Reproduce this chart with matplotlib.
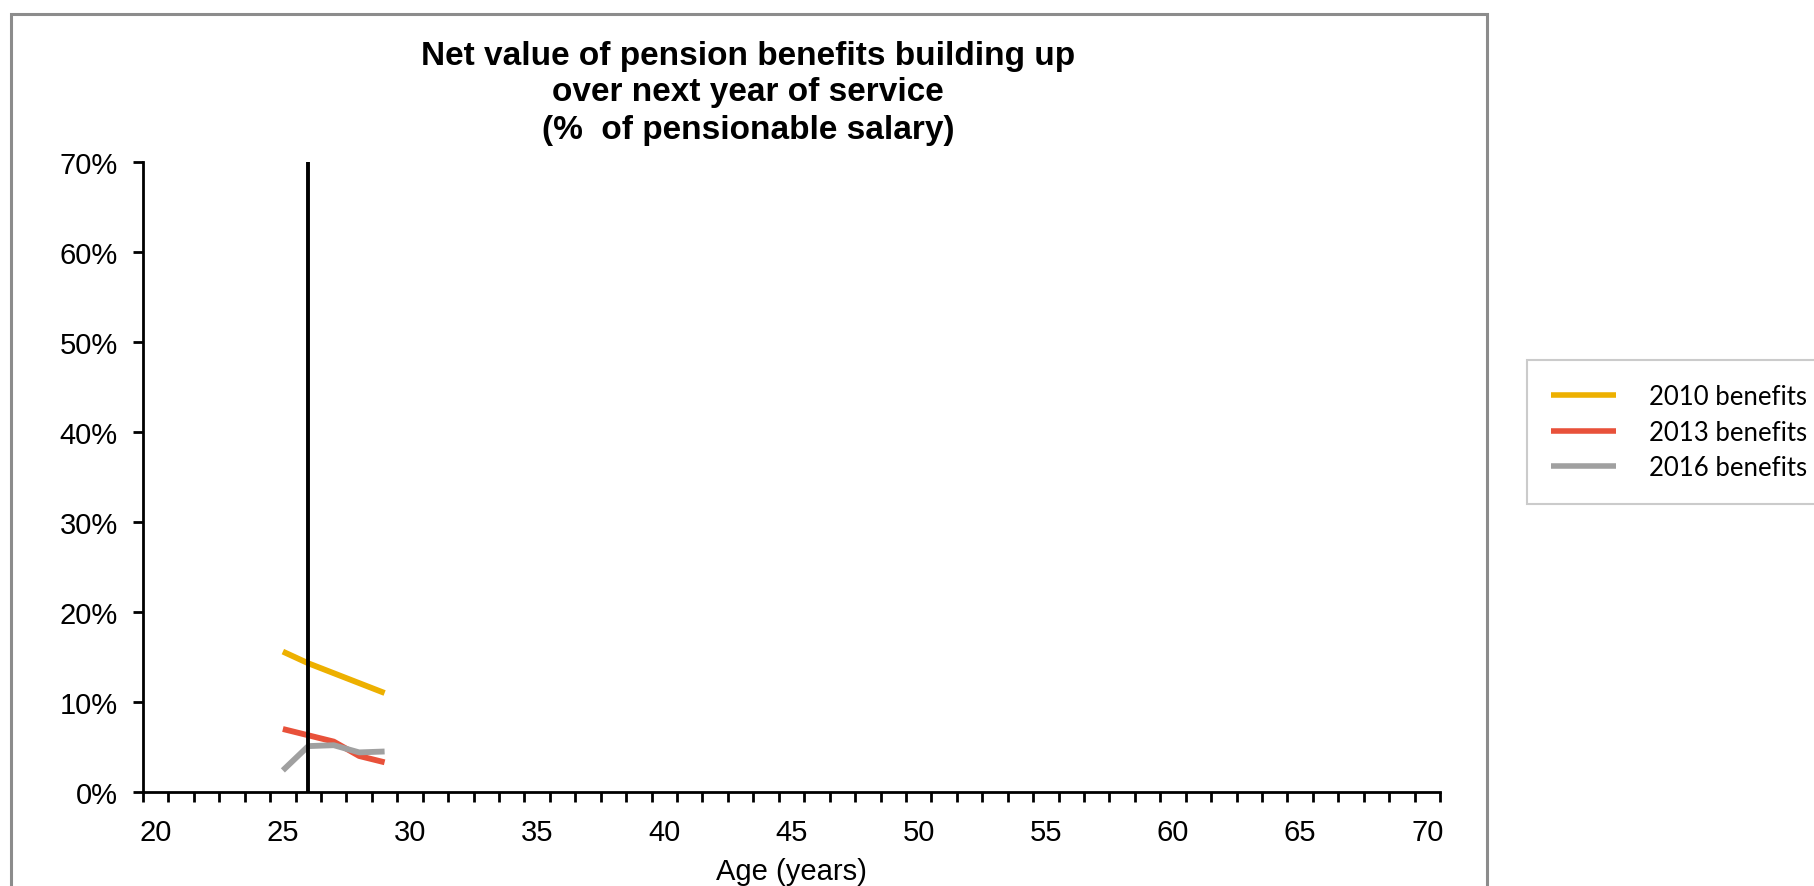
import matplotlib
matplotlib.use("Agg")
import matplotlib.pyplot as plt
from matplotlib.patches import Rectangle
from matplotlib.ticker import FixedLocator, PercentFormatter

# Net value of benefits accrued over the next year, % of pensionable salary
ages = [25, 26, 27, 28, 29]
benefits_2010 = [15.6, 14.3, 13.2, 12.1, 11.0]
benefits_2013 = [7.0, 6.3, 5.6, 4.0, 3.3]
benefits_2016 = [2.4, 5.1, 5.2, 4.4, 4.5]
current_age = 26

series_names = ["2010 benefits", "2013 benefits", "2016 benefits"]
series_colors = ["#EDB000", "#E8513A", "#A0A0A0"]

age_min, age_max = 20, 70
age_labels = list(range(20, 71, 5))
pct_ticks = list(range(0, 71, 10))

fig = plt.figure(figsize=(18.15, 8.87), dpi=100)
W, H = 1815, 887

# outer chart frame (bottom edge runs off the image)
fig.patches.append(Rectangle((11 / W, -0.05), (1487 - 11) / W, 1.05 - 15 / H,
                             transform=fig.transFigure, fill=False,
                             edgecolor="#8C8C8C", linewidth=2.2))

ax = fig.add_axes([143 / W, 1 - 793 / H, (1440 - 143) / W, (793 - 163) / H])

for vals, name, col in zip([benefits_2010, benefits_2013, benefits_2016],
                           series_names, series_colors):
    ax.plot(ages, vals, color=col, linewidth=4.2, label=name,
            solid_capstyle="butt", solid_joinstyle="round")

ax.axvline(current_age, color="black", linewidth=2.8)

ax.set_xlim(age_min - 0.5, age_max + 0.5)
ax.set_ylim(0, 70)

# category axis: ticks between categories, labels every 5 years
ax.xaxis.set_major_locator(FixedLocator(age_labels))
ax.xaxis.set_minor_locator(FixedLocator([a - 0.5 for a in range(age_min, age_max + 2)]))
ax.set_xticklabels([str(a) for a in age_labels])
ax.tick_params(axis="x", which="major", length=0, pad=19, labelsize=21)
ax.tick_params(axis="x", which="minor", length=7, width=2, direction="out")

ax.set_yticks(pct_ticks)
ax.yaxis.set_major_formatter(PercentFormatter(decimals=0))
ax.tick_params(axis="y", length=7, width=2, pad=11, labelsize=21)

for lbl in ax.get_xticklabels() + ax.get_yticklabels():
    lbl.set_fontfamily("Liberation Sans")

for side in ["top", "right"]:
    ax.spines[side].set_visible(False)
for side in ["left", "bottom"]:
    ax.spines[side].set_linewidth(2)
    ax.spines[side].set_color("black")

ax.set_xlabel("Age (years)", fontsize=21, family="Liberation Sans", labelpad=7.5)

fig.text(748 / W, 1 - 93 / H,
         "Net value of pension benefits building up\nover next year of service\n(%  of pensionable salary)",
         ha="center", va="center", fontsize=24, fontweight="bold",
         family="Liberation Sans", linespacing=1.25)

leg = ax.legend(loc="upper left", bbox_to_anchor=(1527 / W, 1 - 361 / H),
                bbox_transform=fig.transFigure, frameon=True, fancybox=False,
                prop={"family": "Lato", "size": 18.5}, handlelength=2.5,
                handletextpad=1.3, borderpad=0.95, labelspacing=0.4,
                borderaxespad=0)
leg.get_frame().set_edgecolor("#BFBFBF")
leg.get_frame().set_linewidth(1.5)
for h in leg.get_lines():
    h.set_linewidth(4.0)

fig.savefig("out.png", dpi=100)
